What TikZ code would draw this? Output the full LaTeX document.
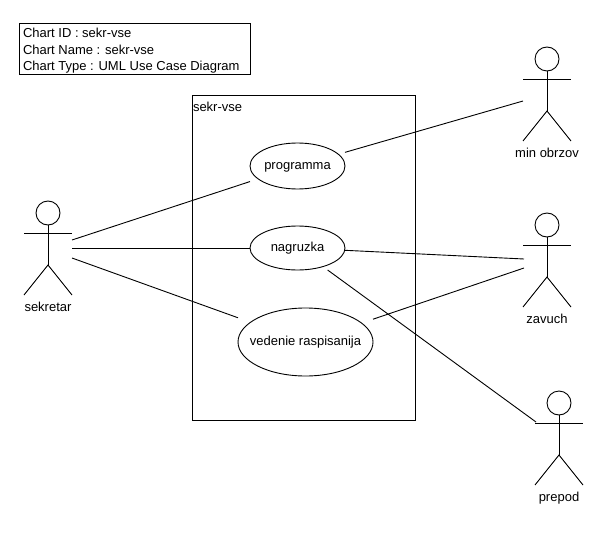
\documentclass[tikz,border=0pt]{standalone}
\usepackage{fontspec}
\setmainfont{Liberation Sans}
\tikzset{
  every picture/.style={x=1pt,y=-1pt},
  ln/.style={line width=0.9pt,black},
  usecase/.style={rectangle,inner sep=0pt,outer sep=0pt,font=\fontsize{13}{15}\selectfont,text height=9.5pt,text depth=2.5pt},
  lbl/.style={inner sep=0pt,outer sep=0pt,font=\fontsize{13}{15}\selectfont},
  pics/actor/.style={code={
    \draw[ln] (0,0) circle[radius=12];
    \draw[ln] (-24,20) -- (24,20);
    \draw[ln] (0,12) -- (0,52);
    \draw[ln] (-24,82) -- (0,52) -- (24,82);
    \node[lbl,anchor=base] (-label) at (0,98) {#1};
  }}
}
\begin{document}
\begin{tikzpicture}
\useasboundingbox (0,0) rectangle (612,532);
% header
\node[draw,ln,anchor=north west,minimum width=231,minimum height=51,inner sep=0pt,outer sep=0pt] (hdr) at (19,23) {};
\node[lbl,anchor=base west] (h1) at (23,38) {Chart ID : sekr-vse};
\node[lbl,anchor=base west] (h2) at (23,55) {Chart Name : sekr-vse};
\node[lbl,anchor=base west] (h3) at (23,71) {Chart Type : UML Use Case Diagram};
% system boundary
\node[draw,ln,anchor=north west,minimum width=223,minimum height=325,inner sep=0pt,outer sep=0pt] (sys) at (192,95) {};
\node[lbl,anchor=base west] (syslbl) at (193,111) {sekr-vse};
% use cases (connectors meet their bounding boxes, as in the reference)
\node[usecase,minimum width=95,minimum height=46] (prog) at (297.5,166) {programma};
\node[usecase,minimum width=95,minimum height=44] (nagr) at (297.5,248) {nagruzka};
\node[usecase,minimum width=135,minimum height=68] (ved) at (305.5,342) {vedenie raspisanija};
\draw[ln] (prog.center) ellipse[x radius=47.5,y radius=23];
\draw[ln] (nagr.center) ellipse[x radius=47.5,y radius=22];
\draw[ln] (ved.center) ellipse[x radius=67.5,y radius=34];
% actors
\pic (sek) at (48,213) {actor=sekretar};
\pic (min) at (547,59) {actor=min obrzov};
\pic (zav) at (547,225) {actor=zavuch};
\pic (pre) at (559,403) {actor=prepod};
% attachment points
\coordinate (sek1) at (72,240);
\coordinate (sek2) at (72,248);
\coordinate (sek3) at (72,258);
\coordinate (min1) at (523,101);
\coordinate (zav1) at (524,259);
\coordinate (zav2) at (524,268);
\coordinate (pre1) at (536,422);
% connectors
\draw[ln] (sek1) -- (prog);
\draw[ln] (sek2) -- (nagr);
\draw[ln] (sek3) -- (ved);
\draw[ln] (prog) -- (min1);
\draw[ln] (nagr) -- (zav1);
\draw[ln] (ved) -- (zav2);
\draw[ln] (nagr) -- (pre1);
\end{tikzpicture}
\end{document}
